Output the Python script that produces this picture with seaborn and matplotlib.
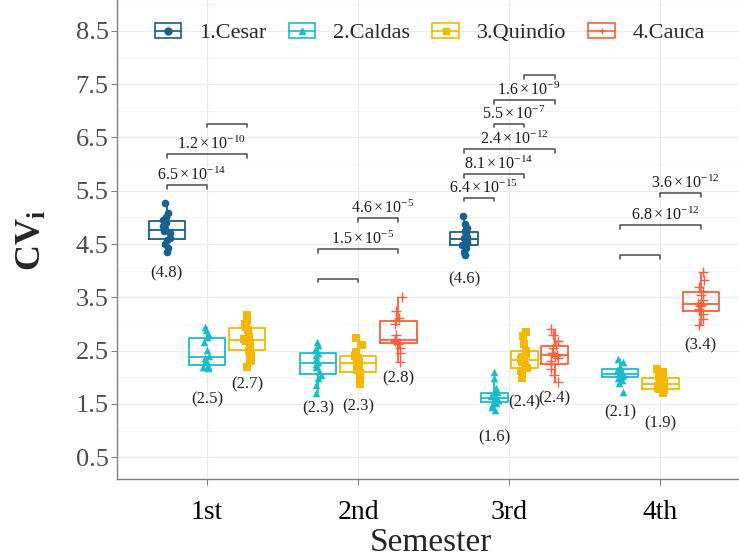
import numpy as np
import pandas as pd
import matplotlib
matplotlib.use('Agg')
import matplotlib.pyplot as plt
from matplotlib.lines import Line2D
from matplotlib.patches import Patch
import seaborn as sns

sns.set_style('white')
plt.rcParams['font.family'] = ['Liberation Serif', 'DejaVu Serif']
plt.rcParams['mathtext.fontset'] = 'custom'
plt.rcParams['mathtext.rm'] = 'Liberation Serif'
plt.rcParams['mathtext.it'] = 'Liberation Serif:italic'
plt.rcParams['mathtext.bf'] = 'Liberation Serif:bold'

#%% data

semesters = ['1st', '2nd', '3rd', '4th']
depts = ['1.Cesar', '2.Caldas', '3.Quindío', '4.Cauca']
colors = ['#17608F', '#1ABCCC', '#F4B800', '#F9603A']
markers = ['o', '^', 's', '+']

cesar_1 = [4.35, 4.42, 4.50, 4.58, 4.62, 4.70, 4.74, 4.78, 4.84, 4.90, 4.95, 5.00, 5.08, 5.27]
caldas_1 = [2.17, 2.19, 2.20, 2.22, 2.28, 2.33, 2.36, 2.40, 2.52, 2.66, 2.75, 2.80, 2.88, 2.94]
quindio_1 = [2.19, 2.30, 2.42, 2.50, 2.56, 2.64, 2.68, 2.72, 2.78, 2.88, 2.94, 3.00, 3.08, 3.16]
caldas_2 = [1.71, 1.85, 1.98, 2.05, 2.12, 2.20, 2.24, 2.28, 2.34, 2.42, 2.46, 2.52, 2.60, 2.66]
quindio_2 = [1.88, 1.95, 2.02, 2.08, 2.14, 2.22, 2.26, 2.28, 2.31, 2.36, 2.40, 2.48, 2.60, 2.73]
cauca_2 = [2.29, 2.45, 2.55, 2.63, 2.65, 2.68, 2.69, 2.71, 2.80, 3.00, 3.08, 3.12, 3.25, 3.51]
cesar_3 = [4.29, 4.35, 4.42, 4.48, 4.52, 4.56, 4.59, 4.61, 4.64, 4.70, 4.74, 4.80, 4.88, 5.03]
caldas_3 = [1.38, 1.44, 1.48, 1.52, 1.55, 1.58, 1.60, 1.62, 1.64, 1.68, 1.72, 1.80, 1.98, 2.10]
quindio_3 = [1.98, 2.05, 2.12, 2.17, 2.22, 2.28, 2.30, 2.34, 2.38, 2.44, 2.50, 2.62, 2.78, 2.85]
cauca_3 = [1.91, 2.05, 2.15, 2.24, 2.30, 2.36, 2.40, 2.42, 2.46, 2.55, 2.60, 2.68, 2.80, 2.91]
caldas_4 = [1.73, 1.90, 1.95, 1.99, 2.02, 2.05, 2.06, 2.08, 2.10, 2.13, 2.16, 2.20, 2.28, 2.35]
quindio_4 = [1.71, 1.74, 1.76, 1.78, 1.80, 1.84, 1.87, 1.89, 1.92, 1.96, 2.00, 2.04, 2.10, 2.16]
cauca_4 = [2.98, 3.10, 3.18, 3.24, 3.28, 3.33, 3.36, 3.40, 3.45, 3.55, 3.62, 3.70, 3.82, 3.98]

# (semester, department, values, printed value under the box)
boxes = [
    ('1st', '1.Cesar', cesar_1, 4.8), ('1st', '2.Caldas', caldas_1, 2.5), ('1st', '3.Quindío', quindio_1, 2.7),
    ('2nd', '2.Caldas', caldas_2, 2.3), ('2nd', '3.Quindío', quindio_2, 2.3), ('2nd', '4.Cauca', cauca_2, 2.8),
    ('3rd', '1.Cesar', cesar_3, 4.6), ('3rd', '2.Caldas', caldas_3, 1.6), ('3rd', '3.Quindío', quindio_3, 2.4),
    ('3rd', '4.Cauca', cauca_3, 2.4),
    ('4th', '2.Caldas', caldas_4, 2.1), ('4th', '3.Quindío', quindio_4, 1.9), ('4th', '4.Cauca', cauca_4, 3.4),
]

# pairwise comparisons: semester, group a, group b, bracket height, p mantissa, p exponent
brk_sem = ['1st', '1st', '1st', '2nd', '2nd', '2nd', '3rd', '3rd', '3rd', '3rd', '3rd', '3rd', '4th', '4th', '4th']
brk_a = ['1.Cesar', '1.Cesar', '2.Caldas', '2.Caldas', '2.Caldas', '3.Quindío',
         '1.Cesar', '1.Cesar', '1.Cesar', '2.Caldas', '2.Caldas', '3.Quindío',
         '2.Caldas', '2.Caldas', '3.Quindío']
brk_b = ['2.Caldas', '3.Quindío', '3.Quindío', '3.Quindío', '4.Cauca', '4.Cauca',
         '2.Caldas', '3.Quindío', '4.Cauca', '3.Quindío', '4.Cauca', '4.Cauca',
         '3.Quindío', '4.Cauca', '4.Cauca']
brk_y = [5.60, 6.19, 6.76, 3.85, 4.41, 4.99, 5.37, 5.81, 6.28, 6.76, 7.20, 7.67, 4.29, 4.85, 5.45]
brk_m = [6.5, 1.2, None, None, 1.5, 4.6, 6.4, 8.1, 2.4, 5.5, 1.6, None, None, 6.8, 3.6]
brk_e = [-14, -10, None, None, -5, -5, -15, -14, -12, -7, -9, None, None, -12, -12]

#%% dodge positions like ggplot (only the groups present in each semester)

rows = []
for sem, dept, vals, lab in boxes:
    for v in vals:
        rows.append({'Semester': sem, 'Dept': dept, 'CV': v})
df = pd.DataFrame(rows)

pos = {}
bw = {}
for i, sem in enumerate(semesters):
    present = [d for d in depts if ((df['Semester'] == sem) & (df['Dept'] == d)).any()]
    n = len(present)
    for j, d in enumerate(present):
        pos[(sem, d)] = i + 1 + (j - (n - 1) / 2) * 0.8 / n
        bw[(sem, d)] = 0.8 / n * 0.9

#%% plot

fig = plt.figure(figsize=(7.39, 5.58), dpi=100)
ax = fig.add_axes([117 / 739, 79 / 558, 622 / 739, 479 / 558])
np.random.seed(3)

for sem, dept, vals, lab in boxes:
    k = depts.index(dept)
    x = [pos[(sem, dept)]] * len(vals)
    sns.boxplot(x=x, y=vals, native_scale=True, width=bw[(sem, dept)], fill=False,
                color=colors[k], linewidth=1.3, showfliers=False, showcaps=False, ax=ax)
    if markers[k] == '+':
        sns.stripplot(x=x, y=vals, native_scale=True, jitter=0.025, color=colors[k],
                      marker='+', size=7.5, linewidth=1, ax=ax, zorder=3)
    else:
        sns.stripplot(x=x, y=vals, native_scale=True, jitter=0.025, color=colors[k],
                      marker=markers[k], size=5.5, linewidth=0, ax=ax, zorder=3)
    q1 = np.percentile(vals, 25)
    ax.text(pos[(sem, dept)], q1 - 0.65, '(%.1f)' % lab, ha='center', va='center',
            fontsize=12, color='#222222')

tip = 0.07
for sem, a, b, y, m, e in zip(brk_sem, brk_a, brk_b, brk_y, brk_m, brk_e):
    xa, xb = pos[(sem, a)], pos[(sem, b)]
    ax.plot([xa, xa, xb, xb], [y - tip, y, y, y - tip], color='#5A5A5A', lw=1.2, zorder=4)
    if m is not None:
        ax.text((xa + xb) / 2 + 0.03, y + 0.02, r'$%.1f\times10^{%d}$' % (m, e),
                ha='center', va='bottom', fontsize=11.5, color='#1A1A1A', zorder=5)

ax.set_xlim(0.404, 4.52)
ax.set_ylim(0.09, 9.08)
ax.set_xticks(range(1, len(semesters) + 1))
ax.set_xticklabels(semesters)
ax.set_yticks(np.arange(0.5, 9.0, 1.0))
ax.set_yticks(np.arange(1.0, 9.5, 1.0), minor=True)
ax.grid(axis='both', which='major', color='#EBEBEB', lw=0.9)
ax.grid(axis='y', which='minor', color='#F3F3F3', lw=0.6)
ax.set_axisbelow(True)
for s in ['top', 'right']:
    ax.spines[s].set_visible(False)
for s in ['left', 'bottom']:
    ax.spines[s].set_color('#7F7F7F')
    ax.spines[s].set_linewidth(1.0)
ax.tick_params(axis='x', which='major', length=4, color='#7F7F7F', labelsize=20,
               labelcolor='black', pad=11, bottom=True)
ax.tick_params(axis='y', which='major', length=4, color='#7F7F7F', labelsize=19,
               labelcolor='#4D4D4D', pad=2, left=True)
ax.tick_params(axis='y', which='minor', length=0)
ax.set_xlabel('')
ax.set_ylabel('')

fig.text(431 / 739, 1 - 543 / 558, 'Semester', ha='center', va='center', fontsize=24)
fig.text(32 / 739, 1 - 240 / 558, r'$\mathbf{CV}_{\mathbf{i}}$', ha='center', va='center',
         fontsize=26, rotation=90)

handles = []
for d, c, mk in zip(depts, colors, markers):
    handles.append((Patch(facecolor='white', edgecolor=c, linewidth=1.2),
                    Line2D([], [], color=c, marker=mk, markersize=5, linewidth=1.2)))
fig.legend(handles, depts, loc='center', bbox_to_anchor=(430 / 739, 1 - 33 / 558), ncol=4,
           frameon=False, fontsize=16, handlelength=1.2, handletextpad=0.8, columnspacing=1.0)

fig.savefig('out.png', dpi=100)
